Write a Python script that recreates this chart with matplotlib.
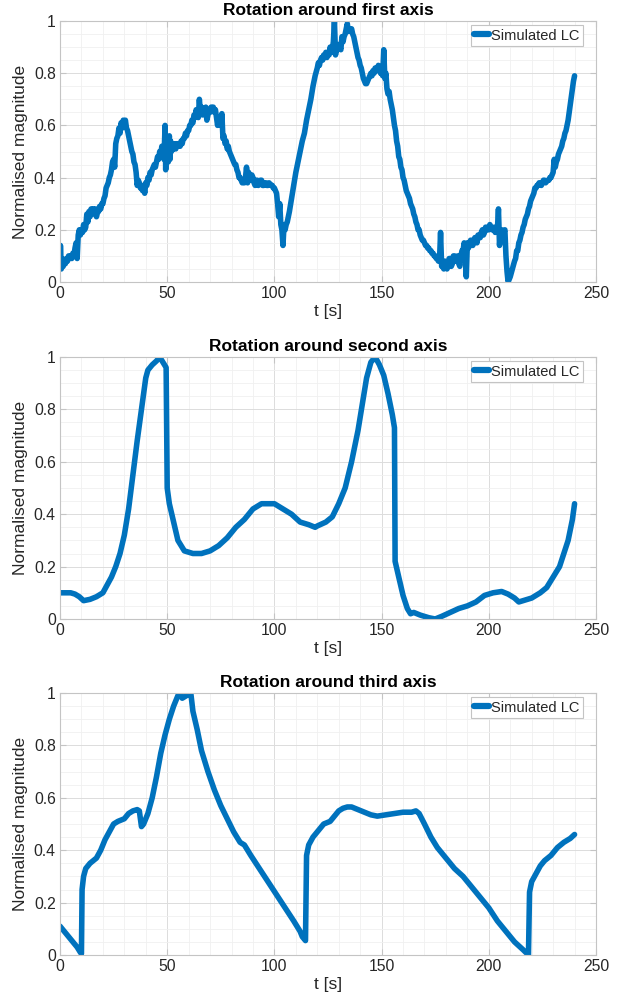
import matplotlib
matplotlib.use("Agg")
import matplotlib.pyplot as plt
from matplotlib.ticker import MultipleLocator

plt.rcParams['font.family'] = ['Liberation Sans', 'DejaVu Sans']

# ---------------- data ----------------
# first axis light curve, (t [s], normalised magnitude) pairs
lc1 = [
    (0, 0.06), (0.2, 0.14), (0.4, 0.1), (0.6, 0.05), (1, 0.09), (1.5, 0.06), (2, 0.08), (2.5, 0.07),
    (3, 0.09), (3.5, 0.08), (4, 0.1), (4.5, 0.09), (5, 0.1), (5.5, 0.09), (6, 0.11), (6.5, 0.1), (7, 0.13),
    (7.5, 0.15), (8, 0.09), (8.5, 0.18), (9, 0.2), (9.5, 0.18), (10, 0.2), (10.5, 0.19), (11, 0.22),
    (11.5, 0.2), (12, 0.21), (12.5, 0.26), (13, 0.23), (13.5, 0.27), (14, 0.25), (14.5, 0.28), (15, 0.26),
    (15.5, 0.28), (16, 0.27), (16.5, 0.28), (17, 0.25), (17.5, 0.27), (18, 0.27), (18.5, 0.29), (19, 0.28),
    (19.5, 0.3), (20, 0.3), (20.5, 0.32), (21, 0.33), (21.5, 0.36), (22, 0.37), (22.5, 0.38), (23, 0.4),
    (23.5, 0.41), (24, 0.43), (24.5, 0.46), (25, 0.47), (25.5, 0.44), (26, 0.53), (26.5, 0.55), (27, 0.56),
    (27.5, 0.59), (28, 0.57), (28.5, 0.61), (29, 0.59), (29.5, 0.62), (30, 0.6), (30.5, 0.62), (31, 0.59),
    (31.5, 0.58), (32, 0.56), (32.5, 0.54), (33, 0.52), (33.5, 0.5), (34, 0.49), (34.5, 0.46), (35, 0.45),
    (35.5, 0.42), (36, 0.37), (36.5, 0.39), (37, 0.38), (37.5, 0.36), (38, 0.37), (38.5, 0.35), (39, 0.37),
    (39.5, 0.34), (40, 0.38), (40.5, 0.37), (41, 0.4), (41.5, 0.39), (42, 0.42), (42.5, 0.41), (43, 0.43),
    (43.5, 0.44), (44, 0.45), (44.5, 0.44), (45, 0.46), (45.5, 0.48), (46, 0.47), (46.5, 0.5), (47, 0.49),
    (47.5, 0.52), (48, 0.5), (48.5, 0.47), (49, 0.6), (49.3, 0.43), (49.6, 0.55), (50, 0.5), (50.5, 0.46),
    (51, 0.56), (51.3, 0.47), (51.6, 0.54), (52, 0.5), (52.5, 0.53), (53, 0.51), (53.5, 0.53), (54, 0.51),
    (54.5, 0.53), (55, 0.52), (55.5, 0.53), (56, 0.52), (56.5, 0.54), (57, 0.53), (57.5, 0.55), (58, 0.55),
    (58.5, 0.57), (59, 0.56), (59.5, 0.58), (60, 0.58), (60.5, 0.6), (61, 0.6), (61.5, 0.62), (62, 0.61),
    (62.5, 0.64), (63, 0.63), (63.5, 0.66), (64, 0.64), (64.5, 0.63), (65, 0.7), (65.5, 0.65), (66, 0.67),
    (66.5, 0.64), (67, 0.66), (67.5, 0.65), (68, 0.67), (68.5, 0.62), (69, 0.64), (69.5, 0.66), (70, 0.65),
    (70.5, 0.67), (71, 0.66), (71.5, 0.67), (72, 0.65), (72.5, 0.66), (73, 0.63), (73.5, 0.6), (74, 0.63),
    (74.5, 0.61), (75, 0.6), (75.5, 0.645), (76, 0.55), (76.5, 0.56), (77, 0.53), (77.5, 0.54), (78, 0.51),
    (78.5, 0.52), (79, 0.5), (79.5, 0.49), (80, 0.48), (80.5, 0.47), (81, 0.46), (81.5, 0.45), (82, 0.45),
    (82.5, 0.43), (83, 0.42), (83.5, 0.4), (84, 0.4), (84.5, 0.39), (85, 0.38), (85.5, 0.39), (86, 0.38),
    (86.5, 0.4), (87, 0.44), (87.5, 0.38), (88, 0.42), (88.5, 0.4), (89, 0.39), (89.5, 0.41), (90, 0.4),
    (90.5, 0.38), (91, 0.37), (91.5, 0.39), (92, 0.39), (92.5, 0.37), (93, 0.38), (93.5, 0.39), (94, 0.39),
    (94.5, 0.37), (95, 0.37), (95.5, 0.38), (96, 0.38), (96.5, 0.37), (97, 0.37), (97.5, 0.38), (98, 0.375),
    (98.5, 0.37), (99, 0.37), (99.5, 0.36), (100, 0.36), (100.5, 0.35), (101, 0.34), (101.5, 0.3),
    (102, 0.25), (102.5, 0.3), (103, 0.22), (103.5, 0.2), (104, 0.14), (104.5, 0.22), (105, 0.2),
    (105.5, 0.22), (106, 0.23), (107, 0.27), (108, 0.32), (109, 0.37), (110, 0.42), (111, 0.46), (112, 0.5),
    (113, 0.54), (114, 0.57), (115, 0.62), (116, 0.66), (117, 0.7), (118, 0.75), (119, 0.79), (120, 0.82),
    (120.5, 0.84), (121, 0.83), (121.5, 0.85), (122, 0.86), (122.5, 0.85), (123, 0.87), (123.5, 0.86),
    (124, 0.88), (124.5, 0.86), (125, 0.88), (125.5, 0.87), (126, 0.9), (126.5, 0.88), (127, 0.89),
    (127.5, 0.92), (128, 1.0), (128.5, 0.87), (129, 0.9), (129.5, 0.89), (130, 0.91), (130.5, 0.9),
    (131, 0.89), (131.5, 0.94), (132, 0.92), (132.5, 0.94), (133, 0.95), (133.5, 0.97), (134, 0.99),
    (134.5, 0.96), (135, 0.97), (135.5, 0.96), (136, 0.97), (136.5, 0.95), (137, 0.94), (137.5, 0.92),
    (138, 0.9), (138.5, 0.88), (139, 0.86), (139.5, 0.85), (140, 0.83), (140.5, 0.82), (141, 0.8),
    (141.5, 0.78), (142, 0.77), (142.5, 0.76), (143, 0.76), (143.5, 0.77), (144, 0.78), (144.5, 0.79),
    (145, 0.8), (145.5, 0.79), (146, 0.81), (146.5, 0.8), (147, 0.82), (147.5, 0.81), (148, 0.81),
    (148.5, 0.83), (149, 0.82), (149.5, 0.8), (150, 0.81), (150.5, 0.79), (151, 0.89), (151.5, 0.78),
    (152, 0.8), (152.5, 0.74), (153, 0.72), (153.5, 0.73), (154, 0.7), (154.5, 0.68), (155, 0.66),
    (155.5, 0.63), (156, 0.6), (156.5, 0.58), (157, 0.54), (157.5, 0.52), (158, 0.48), (158.5, 0.47),
    (159, 0.44), (159.5, 0.43), (160, 0.4), (160.5, 0.39), (161, 0.37), (161.5, 0.35), (162, 0.34),
    (162.5, 0.33), (163, 0.32), (163.5, 0.3), (164, 0.29), (164.5, 0.28), (165, 0.26), (165.5, 0.25),
    (166, 0.23), (166.5, 0.22), (167, 0.2), (167.5, 0.2), (168, 0.18), (168.5, 0.17), (169, 0.16),
    (169.5, 0.16), (170, 0.15), (170.5, 0.14), (171, 0.14), (171.5, 0.13), (172, 0.13), (172.5, 0.12),
    (173, 0.12), (173.5, 0.11), (174, 0.11), (174.5, 0.1), (175, 0.1), (175.5, 0.09), (176, 0.09),
    (176.5, 0.08), (177, 0.08), (177.5, 0.19), (178, 0.06), (178.5, 0.07), (179, 0.05), (179.5, 0.08),
    (180, 0.07), (180.5, 0.05), (181, 0.06), (181.5, 0.09), (182, 0.09), (182.5, 0.06), (183, 0.07),
    (183.5, 0.1), (184, 0.1), (184.5, 0.08), (185, 0.08), (185.5, 0.1), (186, 0.07), (186.5, 0.06),
    (187, 0.1), (187.5, 0.12), (188, 0.12), (188.5, 0.15), (189, 0.13), (189.5, 0.02), (190, 0.15),
    (190.5, 0.13), (191, 0.14), (191.5, 0.16), (192, 0.16), (192.5, 0.14), (193, 0.15), (193.5, 0.17),
    (194, 0.17), (194.5, 0.15), (195, 0.18), (195.5, 0.17), (196, 0.17), (196.5, 0.19), (197, 0.2),
    (197.5, 0.18), (198, 0.19), (198.5, 0.21), (199, 0.21), (199.5, 0.2), (200, 0.2), (200.5, 0.22),
    (201, 0.21), (201.5, 0.2), (202, 0.2), (202.5, 0.21), (203, 0.19), (203.5, 0.2), (204, 0.2),
    (204.5, 0.28), (205, 0.14), (205.5, 0.2), (206, 0.2), (206.5, 0.18), (207, 0.19), (207.5, 0.2),
    (208, 0.1), (208.5, 0.04), (209, 0.0), (209.5, 0.01), (210, 0.02), (211, 0.05), (212, 0.08),
    (212.5, 0.09), (213, 0.12), (213.5, 0.12), (214, 0.15), (214.5, 0.16), (215, 0.18), (215.5, 0.19),
    (216, 0.21), (216.5, 0.22), (217, 0.24), (217.5, 0.25), (218, 0.26), (218.5, 0.28), (219, 0.29),
    (219.5, 0.31), (220, 0.32), (220.5, 0.33), (221, 0.34), (221.5, 0.36), (222, 0.36), (222.5, 0.37),
    (223, 0.37), (223.5, 0.38), (224, 0.38), (224.5, 0.37), (225, 0.38), (225.5, 0.39), (226, 0.39),
    (226.5, 0.38), (227, 0.385), (227.5, 0.39), (228, 0.39), (228.5, 0.4), (229, 0.4), (229.5, 0.41),
    (230, 0.42), (230.5, 0.47), (231, 0.44), (231.5, 0.46), (232, 0.47), (232.5, 0.49), (233, 0.5),
    (233.5, 0.51), (234, 0.52), (234.5, 0.54), (235, 0.55), (235.5, 0.57), (236, 0.58), (236.5, 0.6),
    (237, 0.62), (237.5, 0.65), (238, 0.68), (238.5, 0.71), (239, 0.74), (239.5, 0.77), (240, 0.79),
]
t1 = [p[0] for p in lc1]
y1 = [p[1] for p in lc1]

t2 = [0, 3, 5, 7, 9, 11, 14, 17, 20, 22, 24, 26, 28, 30, 32, 34, 36, 38, 40, 41, 43, 45, 46.5, 48, 49.5, 50,
      51, 53, 55, 58, 62, 66, 70, 74, 78, 82, 86, 90, 94, 98, 100, 104, 108, 112, 116, 119, 120, 124, 127, 130,
      133, 136, 139, 141, 143, 145, 147, 149, 151, 153, 155, 156, 156.3, 158, 160, 162, 163.5, 165, 168, 172,
      175, 178, 182, 186, 190, 194, 198, 202, 206, 209, 212, 214, 216, 220, 224, 227, 230, 233, 235, 237, 239,
      240]
y2 = [0.1, 0.1, 0.1, 0.095, 0.085, 0.07, 0.075, 0.085, 0.1, 0.13, 0.16, 0.2, 0.25, 0.32, 0.42, 0.55, 0.68,
      0.8, 0.92, 0.95, 0.97, 0.985, 1.0, 0.98, 0.96, 0.5, 0.44, 0.37, 0.3, 0.26, 0.25, 0.25, 0.26, 0.28, 0.31,
      0.35, 0.38, 0.42, 0.44, 0.44, 0.44, 0.42, 0.4, 0.37, 0.36, 0.35, 0.355, 0.37, 0.39, 0.44, 0.5, 0.6, 0.72,
      0.82, 0.92, 0.98, 1.0, 0.97, 0.93, 0.86, 0.78, 0.73, 0.22, 0.16, 0.09, 0.04, 0.02, 0.025, 0.015, 0.005,
      0.0, 0.01, 0.025, 0.04, 0.05, 0.065, 0.09, 0.1, 0.105, 0.095, 0.08, 0.065, 0.07, 0.08, 0.1, 0.12, 0.16,
      0.2, 0.25, 0.3, 0.38, 0.44]

t3 = [0, 2, 4, 6, 8, 9.5, 10, 10.3, 11, 12, 14, 17, 19, 21, 23, 25, 27, 30, 32, 34, 36, 37, 38, 39, 41, 43,
      45, 47, 49, 51, 53, 55, 56, 57, 59, 60, 61, 62, 64, 66, 69, 72, 75, 78, 81, 84, 86, 89, 93, 97, 101,
      105, 109, 112, 113, 114.5, 115, 116, 118, 120, 123, 126, 128, 130, 132, 134, 136, 139, 142, 145, 148,
      152, 156, 160, 164, 166, 167.5, 170, 173, 176, 180, 184, 188, 192, 196, 200, 204, 208, 212, 216, 218.5,
      219, 220, 222, 224, 226, 229, 232, 235, 238, 240]
y3 = [0.11, 0.09, 0.07, 0.05, 0.03, 0.01, 0.005, 0.25, 0.3, 0.33, 0.35, 0.37, 0.4, 0.44, 0.47, 0.5, 0.51, 0.52,
      0.54, 0.55, 0.555, 0.55, 0.49, 0.5, 0.54, 0.6, 0.68, 0.77, 0.84, 0.9, 0.95, 0.99, 1.0, 0.98, 0.99, 1.0,
      1.0, 0.93, 0.86, 0.78, 0.7, 0.63, 0.57, 0.52, 0.47, 0.43, 0.42, 0.38, 0.33, 0.28, 0.23, 0.18, 0.13, 0.09,
      0.07, 0.055, 0.38, 0.42, 0.45, 0.47, 0.5, 0.51, 0.53, 0.55, 0.56, 0.565, 0.565, 0.555, 0.545, 0.535,
      0.53, 0.535, 0.54, 0.545, 0.545, 0.55, 0.54, 0.5, 0.45, 0.41, 0.37, 0.33, 0.3, 0.26, 0.22, 0.18, 0.13,
      0.09, 0.05, 0.02, 0.0, 0.24, 0.28, 0.31, 0.34, 0.36, 0.38, 0.41, 0.43, 0.445, 0.46]

titles = ["Rotation around first axis", "Rotation around second axis", "Rotation around third axis"]
series = [(t1, y1), (t2, y2), (t3, y3)]
xlabel = "t [s]"
ylabel = "Normalised magnitude"
legend_label = "Simulated LC"
ytick_values = [0, 0.2, 0.4, 0.6, 0.8, 1.0]
ytick_labels = ['0', '0.2', '0.4', '0.6', '0.8', '1']

# ---------------- figure ----------------
W, H = 627, 1006
fig = plt.figure(figsize=(W / 100, H / 100), dpi=100)
fig.patch.set_facecolor('white')

boxes = [(21, 282), (357, 619), (693, 955)]  # top, bottom in pixels
left_px, right_px = 60, 596
line_color = '#0072BD'
text_color = '#262626'

for (top, bot), (tt, yy), title in zip(boxes, series, titles):
    ax = fig.add_axes([left_px / W, 1 - bot / H, (right_px - left_px) / W, (bot - top) / H])
    ax.plot(tt, yy, color=line_color, lw=4.0, solid_joinstyle='round', solid_capstyle='round',
            label=legend_label)
    ax.set_xlim(0, 250)
    ax.set_ylim(0, 1)
    ax.xaxis.set_major_locator(MultipleLocator(50))
    ax.xaxis.set_minor_locator(MultipleLocator(10))
    ax.set_yticks(ytick_values)
    ax.set_yticklabels(ytick_labels)
    ax.yaxis.set_minor_locator(MultipleLocator(0.05))
    ax.grid(True, which='major', color='#dcdcdc', lw=0.7)
    ax.grid(True, which='minor', color='#f0f0f0', lw=0.6)
    ax.set_axisbelow(True)
    for s in ax.spines.values():
        s.set_color('#c4c4c4')
        s.set_linewidth(0.8)
    ax.tick_params(which='both', direction='in', colors='#c4c4c4', labelcolor=text_color,
                   labelsize=11.3, top=True, right=True)
    ax.tick_params(which='major', length=4, pad=3)
    ax.tick_params(which='minor', length=0)
    ax.set_xlabel(xlabel, fontsize=12.5, color=text_color, labelpad=2)
    ax.set_ylabel(ylabel, fontsize=12.5, color=text_color, labelpad=4)
    ax.set_title(title, fontsize=12.5, fontweight='bold', color='black', pad=4)
    leg = ax.legend(loc='upper right', bbox_to_anchor=(0.9757, 0.985), borderaxespad=0,
                    fontsize=10.5, handlelength=1.0, handletextpad=0.15, borderpad=0.25,
                    fancybox=False, framealpha=1, edgecolor='#c4c4c4')
    leg.get_frame().set_linewidth(0.8)
    for line in leg.get_lines():
        line.set_linewidth(4.5)
    for txt in leg.get_texts():
        txt.set_color(text_color)

fig.savefig('out.png', dpi=100, facecolor='white')
